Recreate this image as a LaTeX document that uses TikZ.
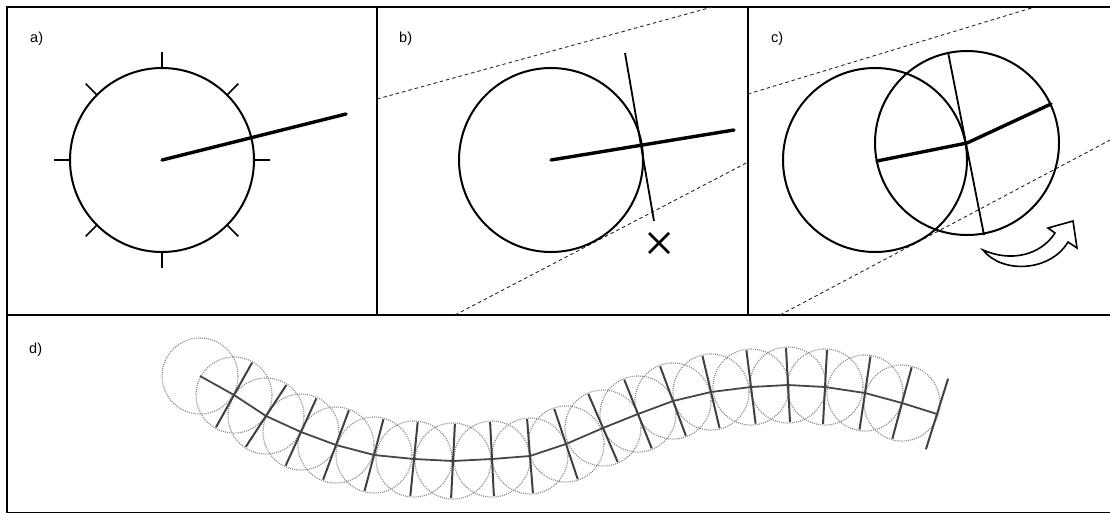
\documentclass[tikz,border=0pt]{standalone}
\usepackage{fontspec}
\setmainfont{Liberation Sans}
\usetikzlibrary{calc}
\begin{document}
\begin{tikzpicture}[x=1pt,y=-1pt,
  frame/.style={line width=2.5pt,black},
  circ/.style={line width=2pt,black},
  boldline/.style={line width=3.4pt,black,line cap=round},
  thinline/.style={line width=1.8pt,black},
  tick/.style={line width=1.6pt,black},
  dashline/.style={line width=0.9pt,black!85,dash pattern=on 3.5pt off 3pt},
  dotcircle/.style={line width=1.2pt,black!45,dash pattern=on 1pt off 1.1pt},
  chainline/.style={line width=1.8pt,black!72},
  perpline/.style={line width=2pt,black!75},
  lab/.style={font=\fontsize{14.5}{16}\selectfont,anchor=base west,inner sep=0pt}]
\useasboundingbox (0,0) rectangle (1110,512);
\fill[white] (0,0) rectangle (1110,512);

% ---------- frames ----------
\draw[frame] (7,7) rectangle (1113,513);
\draw[frame] (7,315) -- (1113,315);
\draw[frame] (377,7) -- (377,315);
\draw[frame] (748,7) -- (748,315);

% ---------- labels ----------
\node[lab] (la) at (30,42) {a)};
\node[lab] (lb) at (399,42) {b)};
\node[lab] (lc) at (771,42) {c)};
\node[lab] (ld) at (29,353) {d)};

% ---------- panel a ----------
\coordinate (ca) at (162,160);
\draw[circ] (ca) circle[radius=92pt];
\foreach \a in {0,45,...,315}
  \draw[tick] ($(ca)+(\a:92pt)$) -- ($(ca)+(\a:108pt)$);
\coordinate (ea) at (346,114);
\draw[boldline] (ca) -- (ea);

% ---------- panel b ----------
\begin{scope}
\clip (377,7) rectangle (748,315);
\draw[dashline] (377,99) -- (716,6);
\draw[dashline] (455,315) -- (750,161);
\end{scope}
\coordinate (cb) at (551,160);
\draw[circ] (cb) circle[radius=92pt];
\coordinate (eb) at (734,130);
\draw[boldline] (cb) -- (eb);
\coordinate (tb1) at (625,53);
\coordinate (tb2) at (654,221);
\draw[thinline] (tb1) -- (tb2);
\coordinate (xb) at (659,243);
\draw[line width=2.8pt] ($(xb)+(-10,-10)$) -- ($(xb)+(10,10)$);
\draw[line width=2.8pt] ($(xb)+(-10,10)$) -- ($(xb)+(10,-10)$);

% ---------- panel c ----------
\begin{scope}
\clip (748,7) rectangle (1110,315);
\draw[dashline] (748,94) -- (1038,6);
\draw[dashline] (780,315) -- (1112,139);
\end{scope}
\coordinate (cc1) at (875,160);
\coordinate (cc2) at (967,143);
\draw[circ] (cc1) circle[radius=92pt];
\draw[circ] (cc2) circle[radius=92pt];
\coordinate (ec) at (1051,104);
\draw[boldline,line join=round] (877,161) -- (cc2) -- (ec);
\coordinate (tc1) at (948,52);
\coordinate (tc2) at (984,235);
\draw[thinline] (tc1) -- (tc2);
% curved block arrow
\draw[line width=1.6pt,fill=white,line join=miter]
  (983,250) .. controls (1010,262) and (1040,256) .. (1055,233)
  -- (1048,228) -- (1073,221) -- (1077,248) -- (1068,242)
  .. controls (1050,272) and (1002,274) .. (983,250) -- cycle;

% ---------- panel d ----------
\foreach \px/\py [count=\i from 0] in {200/376,234/395,266/416,301/432,336/445,374/455,414/459,453/461,492/459,530/456,566/444,603/428,638/414,673/401,711/392,751/387,788/385,825/387,865/393,902/403,937/414}
  \coordinate (p\i) at (\px,\py);
\foreach \i in {0,...,19}
  \draw[dotcircle] (p\i) circle[radius=38pt];
\draw[chainline,line join=round] (p0) \foreach \i in {1,...,20} { -- (p\i) };
\foreach \i [evaluate=\i as \j using int(\i-1)] in {1,...,20}
  \draw[perpline] ($(p\i)!37pt!90:(p\j)$) -- ($(p\i)!37pt!-90:(p\j)$);
\end{tikzpicture}
\end{document}
